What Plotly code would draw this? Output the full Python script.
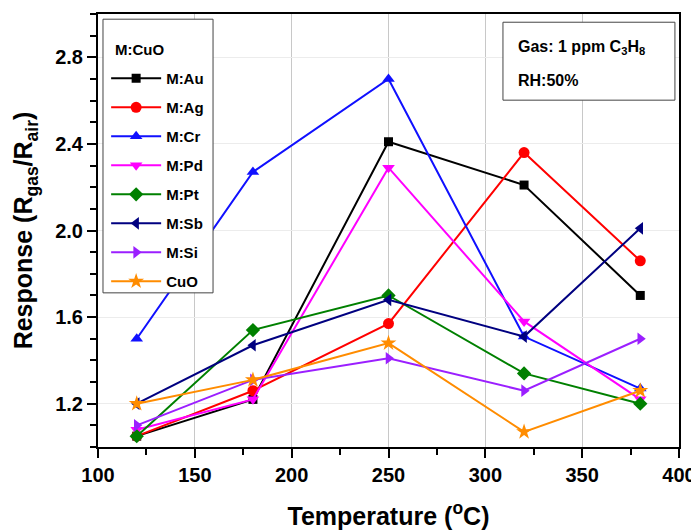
import plotly.graph_objects as go

temps = [120, 180, 250, 320, 380]
series_names = ["M:Au", "M:Ag", "M:Cr", "M:Pd", "M:Pt", "M:Sb", "M:Si", "CuO"]
au = [1.05, 1.22, 2.41, 2.21, 1.70]
ag = [1.05, 1.26, 1.57, 2.36, 1.86]
cr = [1.50, 2.27, 2.70, 1.51, 1.27]
pd_ = [1.08, 1.22, 2.29, 1.58, 1.22]
pt = [1.05, 1.54, 1.70, 1.34, 1.20]
sb = [1.20, 1.47, 1.68, 1.51, 2.01]
si = [1.10, 1.31, 1.41, 1.26, 1.50]
cuo = [1.20, 1.31, 1.48, 1.07, 1.26]

values = [au, ag, cr, pd_, pt, sb, si, cuo]
colors = ["#000000", "#ff0000", "#1010ff", "#ff00ff", "#008000", "#000080", "#9b1fff", "#ff8c00"]
symbols = ["square", "circle", "triangle-up", "triangle-down", "diamond", "triangle-left", "triangle-right", "star"]
sizes = [9, 11, 11, 11, 11, 11, 11, 12]

FONT = "Liberation Sans, Arial, sans-serif"

fig = go.Figure()
for i, (name, vals) in enumerate(zip(series_names, values)):
    fig.add_trace(go.Scatter(
        x=temps, y=vals, name=name, mode="lines+markers",
        line=dict(color=colors[i], width=2),
        marker=dict(symbol=symbols[i], size=sizes[i], color=colors[i]),
        legendgroup=name,
    ))

axis_common = dict(
    showline=True, linecolor="black", linewidth=2, mirror=True,
    ticks="outside", ticklen=9, tickwidth=2, tickcolor="black",
    tickfont=dict(family=FONT, size=20, color="black", weight="bold"),
    showgrid=True, zeroline=False, automargin=False,
)

fig.update_xaxes(
    range=[100, 400], dtick=50, tick0=100, gridcolor="#c8c8c8", gridwidth=1,
    minor=dict(dtick=25, ticks="outside", ticklen=6, tickwidth=2, tickcolor="black", showgrid=False),
    title=dict(text="Temperature (<sup>o</sup>C)", font=dict(family=FONT, size=25, color="black", weight="bold"), standoff=22),
    **axis_common,
)
fig.update_yaxes(
    range=[1.0, 3.0], dtick=0.4, tick0=1.2, tickformat=".1f", gridcolor="#ececec", gridwidth=1,
    minor=dict(dtick=0.1, ticks="outside", ticklen=6, tickwidth=2, tickcolor="black", showgrid=False),
    title=dict(text="Response (R<sub>gas</sub>/R<sub>air</sub>)", font=dict(family=FONT, size=25, color="black", weight="bold"), standoff=15),
    **axis_common,
)

# legend frame + title
fig.add_shape(type="rect", xref="paper", yref="paper", x0=0.0086, x1=0.198, y0=0.356, y1=0.988,
              line=dict(color="#444444", width=1), fillcolor="white", layer="above")
fig.add_annotation(xref="paper", yref="paper", x=0.026, y=0.919, xanchor="left", yanchor="middle",
                   text="M:CuO", showarrow=False,
                   font=dict(family=FONT, size=15, color="black", weight="bold"))

# info box
fig.add_shape(type="rect", xref="paper", yref="paper", x0=0.697, x1=0.993, y0=0.801, y1=0.981,
              line=dict(color="#444444", width=1), fillcolor="white", layer="above")
fig.add_annotation(xref="paper", yref="paper", x=0.720, y=0.922, xanchor="left", yanchor="middle",
                   text="Gas: 1 ppm C<sub>3</sub>H<sub>8</sub>", showarrow=False,
                   font=dict(family=FONT, size=16, color="black", weight="bold"))
fig.add_annotation(xref="paper", yref="paper", x=0.720, y=0.847, xanchor="left", yanchor="middle",
                   text="RH:50%", showarrow=False,
                   font=dict(family=FONT, size=16, color="black", weight="bold"))

fig.update_layout(
    width=691, height=524,
    margin=dict(l=90, r=20, t=6, b=85),
    paper_bgcolor="white", plot_bgcolor="white",
    font=dict(family=FONT, color="black"),
    legend=dict(
        x=0.014, y=0.889, xanchor="left", yanchor="top",
        bgcolor="rgba(0,0,0,0)", borderwidth=0,
        font=dict(family=FONT, size=15, color="black", weight="bold"),
        tracegroupgap=6.5, itemwidth=50,
    ),
)

fig.write_html("out.html")
